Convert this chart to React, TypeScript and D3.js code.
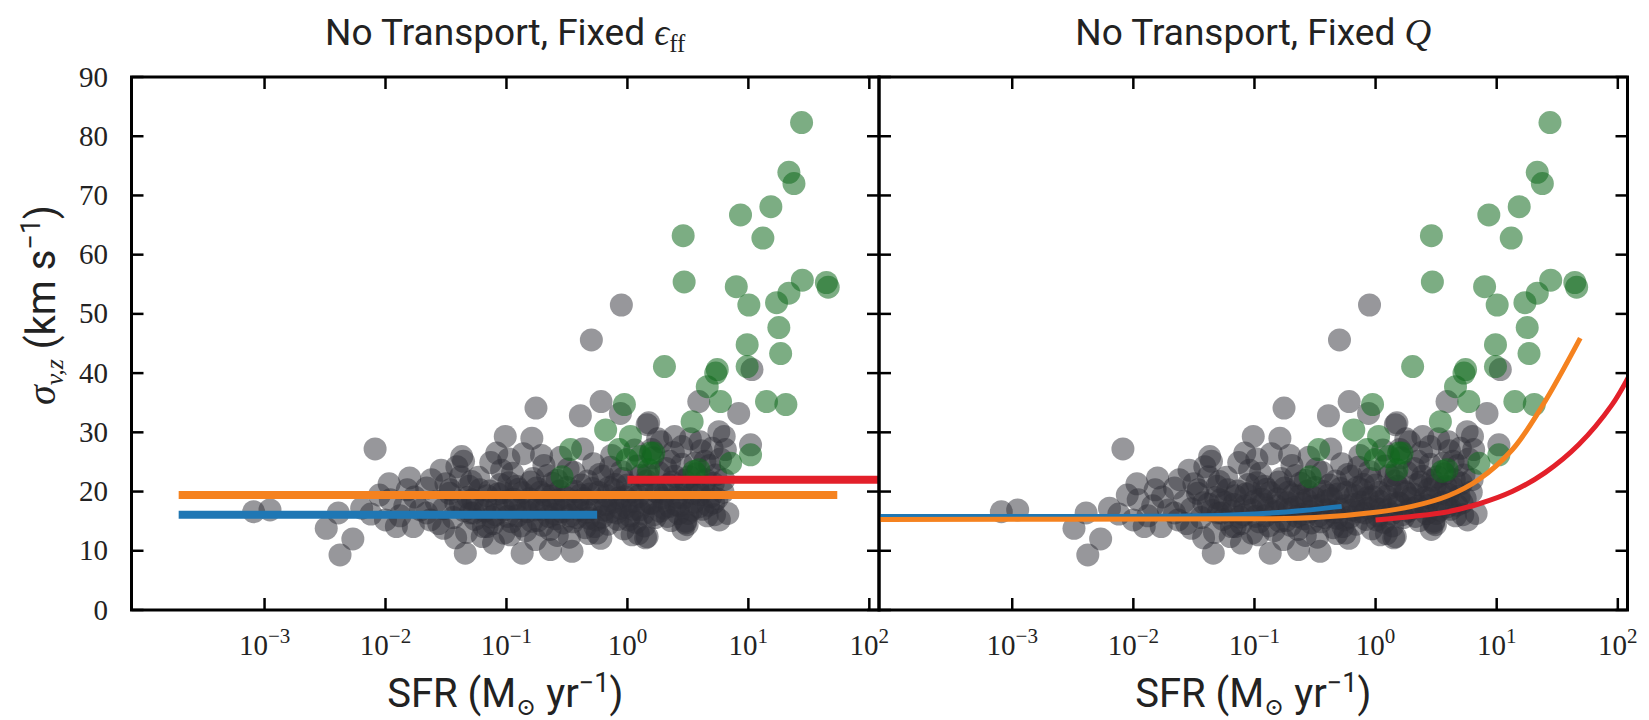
import React from "react";
import * as d3 from "d3";

// Figure geometry
const W = 1649;
const H = 720;
const TOP = 77;
const BOTTOM = 610;
const LOG_MIN = -4.1;
const LOG_MAX = 2.08;
const Y_MAX = 90;

// Axis ticks
const xTickExponents = [-3, -2, -1, 0, 1, 2];
const yTickValues = [0, 10, 20, 30, 40, 50, 60, 70, 80, 90];

// Observed galaxies: [log10 SFR (Msun/yr), sigma_z (km/s)]
const localGalaxies: [number, number][] = [
  [-0.298, 45.6], [-0.05, 51.5], [-0.756, 34.1], [-0.389, 32.8], [-0.218, 35.2],
  [0.163, 31.3], [-0.058, 33.2], [-1.01, 29.3], [-0.79, 29.0], [-2.086, 27.2],
  [-3.09, 16.6], [-2.955, 16.9], [-2.39, 16.4], [-2.197, 17.2], [-2.49, 13.8],
  [-2.27, 12.0], [-2.376, 9.3], [-1.8, 22.3], [-1.62, 22.0], [-1.37, 25.9],
  [-1.355, 25.1], [-1.38, 22.5], [-1.08, 26.5], [-2.0, 15.2], [-1.91, 14.1],
  [-1.77, 14.1], [-1.52, 13.8], [-1.34, 9.6], [-1.42, 12.2], [-1.107, 11.3],
  [-1.96, 18.6], [-1.82, 20.3], [-1.465, 20.3], [-1.66, 16.4], [-1.3, 16.4],
  [-1.16, 14.1], [-1.02, 13.0], [-0.87, 9.6], [-0.637, 10.2], [-0.458, 9.9],
  [-0.25, 13.0], [0.039, 12.7], [0.15, 12.2], [0.494, 14.4], [0.176, 31.6],
  [0.59, 35.2], [0.92, 33.2], [0.756, 30.1], [0.81, 27.1], [1.018, 27.9],
  [0.714, 18.1], [0.163, 12.4], [0.48, 14.7], [0.797, 22.0], [1.03, 40.6],
  [0.39, 29.3],
  [-2.12, 16.2], [-2.05, 19.4], [-1.97, 21.3], [-1.88, 15.9], [-1.84, 17.6],
  [-1.76, 19.1], [-1.71, 16.9], [-1.66, 20.6], [-1.63, 15.2], [-1.58, 18.3],
  [-1.54, 23.6], [-1.52, 17.1], [-1.47, 19.7], [-1.44, 15.6], [-1.41, 24.2],
  [-1.38, 17.9], [-1.33, 13.1], [-1.31, 20.9], [-1.28, 18.6], [-1.26, 15.3],
  [-1.23, 22.4], [-1.2, 12.4], [-1.18, 16.7], [-1.16, 19.3], [-1.13, 24.9],
  [-1.11, 14.6], [-1.08, 17.5], [-1.05, 21.2], [-1.03, 19.8], [-0.99, 15.8],
  [-0.97, 12.7], [-0.95, 23.1], [-0.93, 17.9], [-0.9, 20.4], [-0.88, 14.2],
  [-0.86, 26.4], [-0.83, 16.6], [-0.81, 18.8], [-0.78, 22.2], [-0.76, 11.9],
  [-0.74, 15.1], [-0.72, 19.9], [-0.69, 24.4], [-0.67, 17.3], [-0.64, 13.6],
  [-0.62, 21.4], [-0.6, 16.2], [-0.57, 18.6], [-0.55, 25.8], [-0.53, 14.7],
  [-0.5, 20.7], [-0.48, 12.3], [-0.46, 17.7], [-0.44, 23.2], [-0.42, 15.6],
  [-0.39, 19.4], [-0.37, 27.2], [-0.35, 13.9], [-0.33, 21.8], [-0.3, 17.1],
  [-0.28, 24.7], [-0.26, 15.2], [-0.24, 19.9], [-0.22, 12.1], [-0.2, 22.6],
  [-0.18, 17.8], [-0.16, 14.5], [-0.13, 26.1], [-0.11, 20.3], [-0.09, 16.4],
  [-0.07, 18.9], [-0.05, 23.4], [-0.03, 13.7], [0.0, 21.1], [0.02, 15.9],
  [0.04, 18.3], [0.06, 27.0], [0.08, 24.3], [0.1, 16.9], [0.12, 20.6],
  [0.14, 14.2], [0.17, 22.8], [0.19, 18.1], [0.21, 25.7], [0.23, 15.6],
  [0.25, 19.8], [0.28, 28.4], [0.3, 17.2], [0.32, 23.9], [0.34, 21.2],
  [0.36, 15.1], [0.38, 26.6], [0.41, 19.0], [0.43, 17.6], [0.45, 24.6],
  [0.47, 21.9], [0.5, 16.3], [0.52, 28.9], [0.54, 19.7], [0.57, 23.0],
  [0.59, 17.4], [0.61, 26.9], [0.63, 20.8], [0.66, 15.9], [0.68, 24.4],
  [0.71, 21.4], [0.74, 18.8], [0.77, 25.5], [0.8, 29.3], [0.83, 16.3],
  [-1.35, 16.8], [-1.29, 21.7], [-1.24, 18.2], [-1.19, 14.1], [-1.14, 20.1],
  [-1.09, 16.1], [-1.04, 23.6], [-1.0, 18.4], [-0.96, 14.9], [-0.92, 20.9],
  [-0.89, 17.2], [-0.84, 13.4], [-0.8, 21.6], [-0.77, 16.9], [-0.73, 18.1],
  [-0.7, 14.3], [-0.66, 22.7], [-0.63, 19.2], [-0.59, 15.4], [-0.56, 20.1],
  [-0.52, 17.5], [-0.49, 23.8], [-0.45, 14.9], [-0.41, 18.4], [-0.38, 21.1],
  [-0.34, 16.5], [-0.31, 19.6], [-0.27, 14.1], [-0.23, 22.9], [-0.19, 16.9],
  [-0.15, 20.7], [-0.12, 18.2], [-0.08, 15.3], [-0.04, 22.2], [-0.01, 17.4],
  [0.03, 19.9], [0.07, 14.8], [0.11, 22.7], [0.15, 17.9], [0.18, 20.9],
  [0.22, 16.1], [0.26, 23.2], [0.29, 18.9], [0.33, 15.8], [0.37, 21.6],
  [0.4, 17.8], [0.44, 20.4], [0.48, 15.0], [0.51, 22.5], [0.55, 18.2],
  [0.58, 20.9], [0.62, 17.0], [0.65, 22.0], [0.69, 19.2], [0.72, 16.1],
  [-1.5, 21.3], [-1.42, 18.1], [-1.56, 14.6], [-0.98, 25.5], [-0.71, 26.1],
  [-0.58, 12.6], [-0.32, 12.9], [-0.14, 24.1], [0.09, 12.9], [0.2, 27.1],
  [0.46, 13.6], [0.35, 25.1],
  [-1.32, 19.0], [-1.27, 16.4], [-1.22, 20.3], [-1.17, 17.8], [-1.12, 15.7],
  [-1.07, 19.6], [-1.02, 16.9], [-0.98, 21.5], [-0.94, 18.7], [-0.91, 15.9],
  [-0.87, 19.8], [-0.82, 17.6], [-0.79, 15.0], [-0.75, 20.6], [-0.71, 17.0],
  [-0.68, 19.4], [-0.65, 15.8], [-0.61, 18.0], [-0.58, 21.9], [-0.54, 16.6],
  [-0.51, 19.0], [-0.47, 15.9], [-0.43, 20.0], [-0.4, 16.9], [-0.36, 18.8],
  [-0.32, 15.5], [-0.29, 20.5], [-0.25, 17.6], [-0.21, 15.7], [-0.17, 19.3],
  [-0.14, 16.6], [-0.1, 21.2], [-0.06, 17.2], [-0.02, 19.1], [0.01, 15.2],
  [0.05, 17.0], [0.09, 19.2], [0.13, 16.2], [0.16, 21.8], [0.2, 18.0],
  [0.24, 20.0], [0.27, 16.7], [0.31, 19.6], [0.35, 17.5], [0.39, 22.6],
  [0.42, 16.3], [0.46, 18.9], [0.49, 21.0], [0.53, 16.9], [0.56, 24.8],
  [0.6, 19.5], [0.64, 25.1], [0.67, 17.7], [0.7, 27.3], [0.73, 22.8],
  [0.76, 15.2], [0.79, 19.9], [0.6, 28.4], [0.45, 27.6], [0.25, 28.9],
];

const highZGalaxies: [number, number][] = [
  [1.44, 82.3], [1.335, 73.9], [1.377, 72.0], [1.186, 68.1], [0.935, 66.7],
  [1.12, 62.8], [0.461, 63.2], [0.469, 55.4], [0.9, 54.6], [1.004, 51.5],
  [1.446, 55.7], [1.645, 55.3], [1.66, 54.5], [1.335, 53.5], [1.233, 51.9],
  [1.252, 47.7], [0.99, 44.8], [1.267, 43.3], [0.306, 41.1], [0.743, 40.6],
  [0.73, 40.0], [0.99, 41.1], [0.66, 37.7], [0.77, 35.2], [1.15, 35.2],
  [1.31, 34.7], [0.535, 31.8], [1.018, 26.2], [0.853, 24.8], [0.19, 26.5],
  [0.55, 23.4], [-0.025, 34.7], [-0.18, 30.4], [0.025, 29.3], [-0.47, 27.1],
  [-0.07, 27.1], [0.108, 25.9], [-0.003, 25.4], [0.218, 26.5], [-0.54, 22.5],
  [0.176, 23.7], [0.59, 23.7],
];

// Fixed-epsilon_ff models (constant sigma): [log10 SFR, sigma]
const effDwarf: [number, number][] = [[-3.71, 16.1], [-0.25, 16.1]];
const effSpiral: [number, number][] = [[-3.71, 19.4], [1.735, 19.4]];
const effHighZ: [number, number][] = [[0.0, 22.0], [2.3, 22.0]];

// Fixed-Q models
const qDwarf: [number, number][] = [
  [-4.3, 15.8], [-2.0, 15.8], [-1.4, 15.9], [-1.0, 16.2], [-0.6, 16.8], [-0.28, 17.5],
];
const qSpiral: [number, number][] = [
  [-4.3, 15.3], [-1.0, 15.4], [-0.5, 15.6], [0.0, 16.5], [0.3, 17.5], [0.6, 19.3],
  [0.85, 22.0], [1.13, 27.1], [1.375, 34.4], [1.69, 45.9],
];
const qHighZ: [number, number][] = [
  [0.0, 15.2], [0.3, 15.8], [0.576, 16.5], [0.85, 17.9], [1.127, 20.0],
  [1.4, 23.2], [1.676, 27.9], [1.95, 34.6], [2.1, 39.8],
];

const BLUE = "#1f77b4";
const ORANGE = "#f5821f";
const RED = "#e3202a";
const GRAY = "#2f2f38";
const GREEN = "#106a1e";

const SANS = "Roboto, 'DejaVu Sans', sans-serif";
const SERIF = "'Liberation Serif', 'DejaVu Serif', serif";

type Panel = {
  id: string;
  left: number;
  right: number;
  showYLabels: boolean;
  lineWidth: number;
  curved: boolean;
  models: { data: [number, number][]; color: string }[];
};

const panels: Panel[] = [
  {
    id: "eff",
    left: 131.5,
    right: 879,
    showYLabels: true,
    lineWidth: 8,
    curved: false,
    models: [
      { data: effDwarf, color: BLUE },
      { data: effSpiral, color: ORANGE },
      { data: effHighZ, color: RED },
    ],
  },
  {
    id: "q",
    left: 879,
    right: 1627.5,
    showYLabels: false,
    lineWidth: 5,
    curved: true,
    models: [
      { data: qDwarf, color: BLUE },
      { data: qSpiral, color: ORANGE },
      { data: qHighZ, color: RED },
    ],
  },
];

function PanelView({ p }: { p: Panel }) {
  const x = d3
    .scaleLog()
    .domain([Math.pow(10, LOG_MIN), Math.pow(10, LOG_MAX)])
    .range([p.left, p.right]);
  const y = d3.scaleLinear().domain([0, Y_MAX]).range([BOTTOM, TOP]);
  const line = d3
    .line<[number, number]>()
    .x((d) => x(Math.pow(10, d[0])))
    .y((d) => y(d[1]))
    .curve(p.curved ? d3.curveCatmullRom.alpha(0.5) : d3.curveLinear);
  const tickLen = 12;
  const clipId = `clip-${p.id}`;
  return (
    <g>
      <defs>
        <clipPath id={clipId}>
          <rect x={p.left} y={TOP} width={p.right - p.left} height={BOTTOM - TOP} />
        </clipPath>
      </defs>
      <g clipPath={`url(#${clipId})`}>
        {localGalaxies.map((d, i) => (
          <circle
            key={`g${i}`}
            cx={x(Math.pow(10, d[0]))}
            cy={y(d[1])}
            r={11.5}
            fill={GRAY}
            fillOpacity={0.5}
          />
        ))}
        {highZGalaxies.map((d, i) => (
          <circle
            key={`h${i}`}
            cx={x(Math.pow(10, d[0]))}
            cy={y(d[1])}
            r={11.5}
            fill={GREEN}
            fillOpacity={0.55}
          />
        ))}
        {p.models.map((m, i) => (
          <path
            key={`m${i}`}
            d={line(m.data) || ""}
            fill="none"
            stroke={m.color}
            strokeWidth={p.lineWidth}
          />
        ))}
      </g>
      {/* ticks, pointing inward on all four sides */}
      {xTickExponents.map((e) => {
        const xx = x(Math.pow(10, e));
        return (
          <g key={`xt${e}`} stroke="#000" strokeWidth={2.5}>
            <line x1={xx} x2={xx} y1={BOTTOM} y2={BOTTOM - tickLen} />
            <line x1={xx} x2={xx} y1={TOP} y2={TOP + tickLen} />
          </g>
        );
      })}
      {yTickValues.map((v) => {
        const yy = y(v);
        return (
          <g key={`yt${v}`} stroke="#000" strokeWidth={2.5}>
            <line x1={p.left} x2={p.left + tickLen} y1={yy} y2={yy} />
            <line x1={p.right} x2={p.right - tickLen} y1={yy} y2={yy} />
          </g>
        );
      })}
      <rect
        x={p.left}
        y={TOP}
        width={p.right - p.left}
        height={BOTTOM - TOP}
        fill="none"
        stroke="#000"
        strokeWidth={3}
      />
      {/* x tick labels */}
      {xTickExponents.map((e) => (
        <text
          key={`xl${e}`}
          x={x(Math.pow(10, e))}
          y={655}
          textAnchor="middle"
          fontFamily={SERIF}
          fontSize={29}
          fill="#222"
        >
          10
          <tspan dy={-12} fontSize={21}>
            {e < 0 ? `\u2212${-e}` : `${e}`}
          </tspan>
        </text>
      ))}
      {p.showYLabels &&
        yTickValues.map((v) => (
          <text
            key={`yl${v}`}
            x={108}
            y={y(v) + 9.5}
            textAnchor="end"
            fontFamily={SERIF}
            fontSize={29}
            fill="#222"
          >
            {v}
          </text>
        ))}
      <text
        x={(p.left + p.right) / 2}
        y={707}
        textAnchor="middle"
        fontFamily={SANS}
        fontSize={40}
        fill="#222"
      >
        SFR (M
        <tspan dy={8} fontSize={24} fontFamily={SERIF}>
          {"\u2299"}
        </tspan>
        <tspan dy={-8}> yr</tspan>
        <tspan dy={-15} fontSize={27}>
          {"\u22121"}
        </tspan>
        <tspan dy={15}>)</tspan>
      </text>
    </g>
  );
}

export default function App() {
  const leftMid = (panels[0].left + panels[0].right) / 2;
  const rightMid = (panels[1].left + panels[1].right) / 2;
  return (
    <svg
      width={W}
      height={H}
      viewBox={`0 0 ${W} ${H}`}
      style={{ position: "absolute", left: 0, top: 0, background: "#fff" }}
    >
      <rect x={0} y={0} width={W} height={H} fill="#fff" />
      {panels.map((p) => (
        <PanelView key={p.id} p={p} />
      ))}
      <text x={leftMid} y={45} textAnchor="middle" fontFamily={SANS} fontSize={37} fill="#222">
        No Transport, Fixed{" "}
        <tspan fontFamily={SERIF} fontStyle="italic">
          {"\u03F5"}
        </tspan>
        <tspan dy={7} fontSize={25} fontFamily={SERIF}>
          ff
        </tspan>
      </text>
      <text x={rightMid} y={45} textAnchor="middle" fontFamily={SANS} fontSize={37} fill="#222">
        No Transport, Fixed{" "}
        <tspan fontFamily={SERIF} fontStyle="italic">
          Q
        </tspan>
      </text>
      <text
        transform="translate(55,305) rotate(-90)"
        textAnchor="middle"
        fontFamily={SANS}
        fontSize={40}
        fill="#222"
      >
        <tspan fontFamily={SERIF} fontStyle="italic">
          {"\u03C3"}
        </tspan>
        <tspan dy={8} fontSize={26} fontFamily={SERIF} fontStyle="italic">
          v,z
        </tspan>
        <tspan dy={-8}> (km s</tspan>
        <tspan dy={-15} fontSize={27}>
          {"\u22121"}
        </tspan>
        <tspan dy={15}>)</tspan>
      </text>
    </svg>
  );
}
